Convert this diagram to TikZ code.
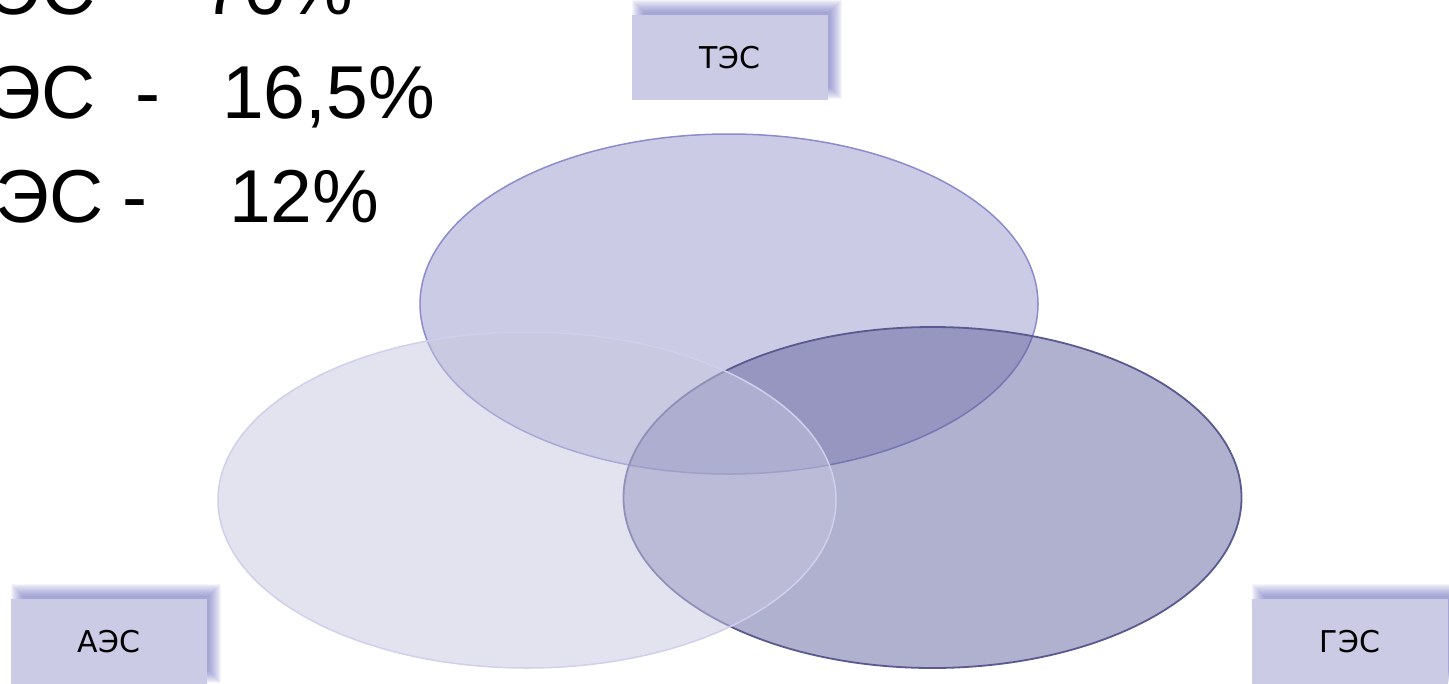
\documentclass[tikz,border=0pt]{standalone}
\usepackage{fontspec}
\setmainfont{Liberation Sans}
\newfontfamily\labfont{DejaVu Sans}
\usetikzlibrary{shapes.geometric}
\pgfdeclarelayer{background}
\pgfsetlayers{background,main}
\definecolor{topfill}{RGB}{151,151,203}
\definecolor{topline}{RGB}{140,140,205}
\definecolor{rightfill}{RGB}{97,97,159}
\definecolor{rightline}{RGB}{90,90,145}
\definecolor{leftfill}{RGB}{199,199,225}
\definecolor{leftline}{RGB}{208,208,236}
\definecolor{boxfill}{RGB}{203,203,230}
\definecolor{shadowc}{RGB}{110,110,190}
\tikzset{
  venn/.style={ellipse, inner sep=0pt, minimum width=618pt, minimum height=340pt, fill opacity=0.5},
  labelbox/.style={rectangle, fill=boxfill, inner sep=0pt, minimum width=196pt, minimum height=85pt, font=\labfont\fontsize{30}{36}\selectfont},
  bigtext/.style={inner sep=0pt, font=\fontsize{75}{90}\selectfont}
}
\begin{document}
\begin{tikzpicture}[x=1pt,y=-1pt]
\useasboundingbox (0,0) rectangle (1449,683);
\clip (0,0) rectangle (1449,683);
% percentages
\node[bigtext, anchor=base east] (l1a) at (96,14) {ЭС};
\node[bigtext, anchor=base east] (l1b) at (353,14) {70\%};
\node[bigtext, anchor=base east] (l2a) at (96,118) {ЭС};
\node[bigtext, anchor=base west] (l2b) at (135,118) {-};
\node[bigtext, anchor=base west] (l2c) at (222,118) {16,5\%};
\node[bigtext, anchor=base east] (l3a) at (104,222) {ЭС};
\node[bigtext, anchor=base west] (l3b) at (122,222) {-};
\node[bigtext, anchor=base west] (l3c) at (229,222) {12\%};
% Venn ellipses
\node[venn, fill=topfill, draw=topline, line width=1.5pt] (etop) at (729,304) {};
\node[venn, fill=rightfill, draw=rightline, line width=1.8pt, minimum height=341pt] (eright) at (932.5,497.5) {};
\node[venn, fill=leftfill, draw=leftline, line width=1.5pt, minimum height=336pt] (eleft) at (527,500) {};
% label boxes
\node[labelbox] (tes) at (730,57.5) {ТЭС};
\node[labelbox] (aes) at (109,641.5) {АЭС};
\node[labelbox] (ges) at (1350,641.5) {ГЭС};
\begin{pgfonlayer}{background}
\foreach \b in {tes,aes,ges}{
  \foreach \d in {-5,-4,...,7}{
    \fill[shadowc, opacity=0.07]
      ([shift={(7-\d,-8+\d)}]\b.south west) rectangle ([shift={(7+\d,-8-\d)}]\b.north east);
  }
}
\end{pgfonlayer}
\end{tikzpicture}
\end{document}
